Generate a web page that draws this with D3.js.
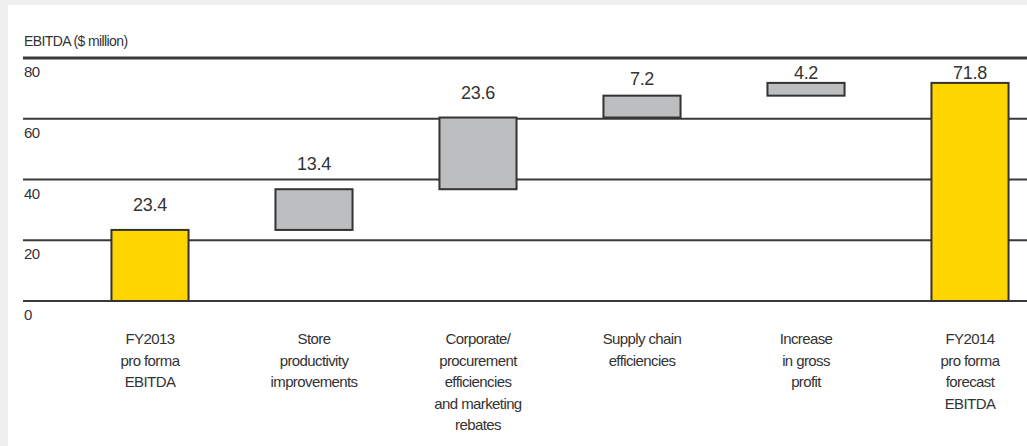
<!DOCTYPE html>
<html lang="en">
<head>
    <meta charset="UTF-8">
    <title>EBITDA bridge</title>
    <script src="https://cdn.jsdelivr.net/npm/d3@7"></script>
    <style>
        body {
            margin: 0;
            background-color: #f0f0f0;
        }
        svg text {
            font-family: "Liberation Sans", Arial, sans-serif;
            fill: #333;
        }
    </style>
</head>
<body>
<svg width="1027" height="446"></svg>
<script>
    // chart data
    var categories = [
        ["FY2013", "pro forma", "EBITDA"],
        ["Store", "productivity", "improvements"],
        ["Corporate/", "procurement", "efficiencies", "and marketing", "rebates"],
        ["Supply chain", "efficiencies"],
        ["Increase", "in gross", "profit"],
        ["FY2014", "pro forma", "forecast", "EBITDA"]
    ];
    var values = [23.4, 13.4, 23.6, 7.2, 4.2, 71.8];
    var kinds = ["total", "step", "step", "step", "step", "total"];
    var yTicks = [0, 20, 40, 60, 80];
    var yTitle = "EBITDA ($ million)";

    var width = 1027;
    var height = 446;
    var svg = d3.select("svg");

    // page panel
    svg.append("rect")
        .attr("width", width)
        .attr("height", height)
        .attr("fill", "#f0f0f0");
    svg.append("rect")
        .attr("x", 8)
        .attr("y", 5)
        .attr("width", width - 8)
        .attr("height", height - 5)
        .attr("fill", "#fff");

    var x = d3.scaleBand()
        .domain(d3.range(values.length))
        .range([68, 1052])
        .paddingInner(0.53)
        .paddingOuter(0.265);

    var y = d3.scaleLinear()
        .domain([0, 80])
        .range([301, 58]);

    // running totals for the waterfall
    var running = 0;
    var bars = values.map(function (v, i) {
        var b;
        if (kinds[i] == "total") {
            b = {lo: 0, hi: v};
            running = v;
        } else {
            b = {lo: running, hi: running + v};
            running += v;
        }
        b.value = v;
        b.kind = kinds[i];
        b.index = i;
        return b;
    });

    // grid lines
    svg.append("g")
        .selectAll("line")
        .data(yTicks)
        .enter()
        .append("line")
        .attr("x1", 23)
        .attr("x2", width)
        .attr("y1", function (d) { return y(d); })
        .attr("y2", function (d) { return y(d); })
        .attr("stroke", "#3a3a3a")
        .attr("stroke-width", function (d) { return d == 80 ? 3 : 2; });

    svg.append("g")
        .selectAll("text")
        .data(yTicks)
        .enter()
        .append("text")
        .attr("x", 24)
        .attr("y", function (d) { return y(d) + 19; })
        .style("font-size", "15px")
        .style("letter-spacing", "-0.5px")
        .text(function (d) { return d; });

    svg.append("text")
        .attr("x", 24)
        .attr("y", 46)
        .style("font-size", "14px")
        .style("letter-spacing", "-0.6px")
        .text(yTitle);

    // bars
    svg.append("g")
        .selectAll("rect")
        .data(bars)
        .enter()
        .append("rect")
        .attr("x", function (d) { return x(d.index); })
        .attr("y", function (d) { return y(d.hi); })
        .attr("width", x.bandwidth())
        .attr("height", function (d) { return y(d.lo) - y(d.hi); })
        .attr("fill", function (d) { return d.kind == "total" ? "#ffd500" : "#bdbec0"; })
        .attr("stroke", "#333")
        .attr("stroke-width", 2);

    // value labels, pulled closer to the bar near the top line
    svg.append("g")
        .selectAll("text")
        .data(bars)
        .enter()
        .append("text")
        .attr("x", function (d) { return x(d.index) + x.bandwidth() / 2; })
        .attr("y", function (d) {
            var top = y(d.hi);
            var gap = Math.min(19, (top - (y(80) + 20)) * 0.6);
            return top - Math.max(gap, 4);
        })
        .attr("text-anchor", "middle")
        .style("font-size", "18px")
        .style("letter-spacing", "-0.3px")
        .text(function (d) { return d.value.toFixed(1); });

    // category labels
    var cat = svg.append("g")
        .selectAll("text")
        .data(categories)
        .enter()
        .append("text")
        .attr("text-anchor", "middle")
        .style("font-size", "15px")
        .style("letter-spacing", "-0.6px");
    cat.selectAll("tspan")
        .data(function (d, i) {
            return d.map(function (line) { return {line: line, i: i}; });
        })
        .enter()
        .append("tspan")
        .attr("x", function (d) { return x(d.i) + x.bandwidth() / 2; })
        .attr("y", function (d, j) { return 344 + j * 21.5; })
        .text(function (d) { return d.line; });
</script>
</body>
</html>
